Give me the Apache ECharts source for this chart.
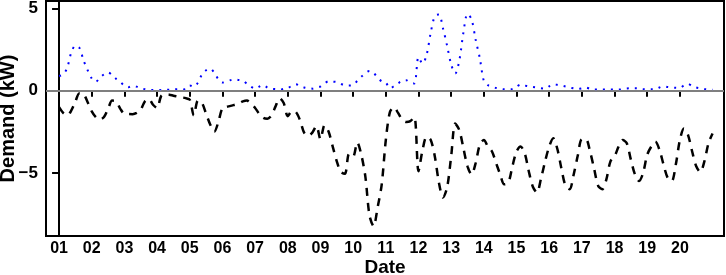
<!DOCTYPE html>
<html>
<head>
<meta charset="utf-8">
<script src="https://cdn.jsdelivr.net/npm/echarts@6/dist/echarts.min.js"></script>
<style>
  html, body { margin: 0; padding: 0; background: #fff; }
  #chart { width: 726px; height: 275px; }
</style>
</head>
<body>
<div id="chart"></div>
<script>
// samples every 3 hours, day 01 00:00 to day 21 00:00
const stepHours = 3

// blue dotted series (kW), one row per day
const demandBlue = [
  0.9, 1.0, 1.4, 2.35, 2.75, 2.6, 1.85, 1.25,
  0.75, 0.55, 0.8, 1.0, 1.12, 0.95, 0.72, 0.55,
  0.3, 0.22, 0.3, 0.25, 0.14, 0.1, 0.05, 0.04,
  0.02, 0.05, 0.05, 0.07, 0.08, 0.1, 0.08, 0.1,
  0.32, 0.25, 0.5, 1.0, 1.25, 1.35, 1.1, 0.7,
  0.5, 0.56, 0.65, 0.7, 0.66, 0.62, 0.42, 0.25,
  0.13, 0.25, 0.35, 0.2, 0.12, 0.1, 0.07, 0.12,
  0.17, 0.3, 0.4, 0.3, 0.2, 0.15, 0.13, 0.2,
  0.26, 0.45, 0.58, 0.56, 0.53, 0.42, 0.33, 0.32,
  0.35, 0.6, 0.85, 1.08, 1.2, 1.1, 0.78, 0.58,
  0.5, 0.15, 0.28, 0.45, 0.62, 0.64, 0.5, 0.45,
  2.05, 1.65, 2.2, 3.55, 4.55, 4.65, 3.8, 2.75,
  1.6, 1.05, 1.85, 3.55, 4.68, 4.35, 3.1, 2.0,
  0.6, 0.34, 0.25, 0.17, 0.12, 0.09, 0.09, 0.09,
  0.25, 0.38, 0.32, 0.27, 0.23, 0.2, 0.16, 0.13,
  0.27, 0.4, 0.36, 0.32, 0.26, 0.2, 0.15, 0.11,
  0.15, 0.2, 0.12, 0.07, 0.07, 0.07, 0.07, 0.07,
  0.07, 0.07, 0.1, 0.14, 0.15, 0.15, 0.14, 0.1,
  0.09, 0.09, 0.1, 0.2, 0.27, 0.23, 0.2, 0.18,
  0.17, 0.33, 0.42, 0.28, 0.2, 0.15, 0.11, 0.08,
  0.06
]

// black dashed series (kW), one row per day
const demandBlack = [
  -1.0, -1.35, -1.5, -1.2, -0.65, -0.15, -0.2, -0.7,
  -1.25, -1.6, -1.75, -1.6, -1.1, -0.6, -0.65, -1.1,
  -1.4, -1.42, -1.43, -1.35, -1.15, -0.65, -0.5, -0.85,
  -1.05, -0.32, -0.22, -0.24, -0.3, -0.35, -0.4, -0.45,
  -0.55, -1.5, -0.6, -0.75, -1.4, -2.05, -2.5, -1.9,
  -1.05, -0.98, -0.92, -0.85, -0.78, -0.65, -0.6, -0.8,
  -1.05, -1.4, -1.65, -1.7, -1.5, -0.95, -0.45, -0.75,
  -1.55, -1.25, -1.3, -1.8, -2.55, -2.75, -2.55, -2.15,
  -2.95, -2.1, -2.5, -3.4, -4.3, -4.95, -5.05, -3.85,
  -4.0, -3.15, -3.9, -5.25, -7.6, -8.25, -7.1, -5.7,
  -3.0, -1.3, -1.0, -1.35, -1.75, -1.9, -1.85, -1.6,
  -4.9, -3.6, -2.8, -3.0, -4.0, -5.6, -6.5, -5.9,
  -4.0, -2.0, -2.4, -3.5, -4.6, -5.1, -4.4, -3.3,
  -3.0, -3.4, -3.7, -4.4, -5.1, -5.7, -5.6, -4.6,
  -3.7, -3.4, -3.8, -4.9, -5.85, -6.2, -5.35, -4.3,
  -3.4, -2.9, -3.55, -4.75, -5.8, -6.0, -5.1, -3.95,
  -2.95, -2.95, -3.7, -4.75, -5.8, -6.0, -5.4, -4.3,
  -4.0, -3.4, -3.0, -3.2, -4.2, -5.1, -5.5, -5.0,
  -3.9, -3.4, -3.1, -3.6, -4.5, -5.3, -5.5, -4.5,
  -3.0, -2.3, -2.7, -3.7, -4.6, -4.95, -4.3, -3.2,
  -2.6
]

// x ticks sit at midnight of each day
const dayTicks = [0,1,2,3,4,5,6,7,8,9,10,11,12,13,14,15,16,17,18,19]
const dayLabels = ['01','02','03','04','05','06','07','08','09','10',
                   '11','12','13','14','15','16','17','18','19','20']
const yTicks = [-5, 0, 5]

const chart = echarts.init(document.getElementById('chart'))

const toPairs = arr => arr.map((v, i) => [i * stepHours / 24, v])

const fontFamily = '"Liberation Sans", Arial, Helvetica, sans-serif'

const option = {
  animation: false,
  grid: {
    left: 46, right: 2, top: 1, bottom: 39,
    outerBoundsMode: 'none',
    containLabel: false,
    show: true, borderColor: '#000', borderWidth: 2
  },
  xAxis: {
    type: 'value',
    min: -0.4,
    max: 20.35,
    name: 'Date',
    nameLocation: 'middle',
    nameGap: 22,
    nameMoveOverlap: false,
    nameTextStyle: { fontFamily, fontWeight: 'bold', fontSize: 19, color: '#000' },
    splitLine: { show: false },
    axisLine: { show: true, lineStyle: { color: '#000', width: 2 } },
    axisTick: {
      show: true, customValues: dayTicks, length: 6,
      lineStyle: { color: '#000', width: 2 }
    },
    axisLabel: {
      customValues: dayTicks,
      margin: 5,
      fontFamily, fontWeight: 'bold', fontSize: 16, color: '#000',
      formatter: v => dayLabels[Math.round(v)]
    }
  },
  yAxis: {
    type: 'value',
    min: -8.85,
    max: 5.47,
    name: 'Demand (kW)',
    nameLocation: 'middle',
    nameGap: 28,
    nameMoveOverlap: false,
    nameTextStyle: { fontFamily, fontWeight: 'bold', fontSize: 20, color: '#000' },
    splitLine: { show: false },
    axisLine: { show: true, lineStyle: { color: '#000', width: 2 } },
    axisTick: {
      show: true, customValues: yTicks, length: 7,
      lineStyle: { color: '#000', width: 2 }
    },
    axisLabel: {
      customValues: yTicks,
      margin: 8,
      fontFamily, fontWeight: 'bold', fontSize: 17, color: '#000',
      formatter: v => String(v).replace('-', '\u2212')
    }
  },
  series: [
    {
      type: 'line',
      data: toPairs(demandBlack),
      showSymbol: false,
      smooth: 0.3,
      lineStyle: { color: '#000', width: 2.5, type: [8, 7] },
      markLine: {
        silent: true,
        symbol: 'none',
        label: { show: false },
        lineStyle: { color: '#aaaaaa', width: 1.5, type: 'solid' },
        data: [{ yAxis: 0 }]
      },
      z: 3
    },
    {
      type: 'line',
      data: toPairs(demandBlue),
      showSymbol: false,
      smooth: 0.3,
      lineStyle: { color: '#0000ff', width: 2, type: [2, 6] },
      z: 4
    }
  ]
}

chart.setOption(option)
</script>
</body>
</html>
